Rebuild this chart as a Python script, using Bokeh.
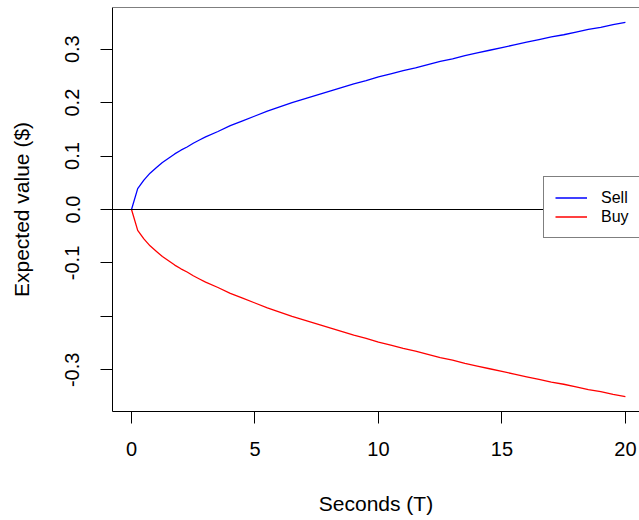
from bokeh.plotting import figure
from bokeh.models import Span, FixedTicker, Legend, LegendItem
from bokeh.embed import file_html
from bokeh.resources import INLINE

# Data
seconds = [0, 0.25, 0.5, 0.75, 1, 1.25, 1.5, 1.75, 2, 2.25, 2.5, 2.75, 3,
           3.5, 4, 4.5, 5, 5.5, 6, 6.5, 7, 7.5, 8, 8.5, 9, 9.5, 10,
           10.5, 11, 11.5, 12, 12.5, 13, 13.5, 14, 14.5, 15, 15.5, 16,
           16.5, 17, 17.5, 18, 18.5, 19, 19.5, 20]
sell = [0.000, 0.039, 0.055, 0.068, 0.078, 0.088, 0.096, 0.104, 0.111, 0.117,
        0.124, 0.130, 0.136, 0.146, 0.157, 0.166, 0.175, 0.184, 0.192, 0.200,
        0.207, 0.214, 0.221, 0.228, 0.235, 0.241, 0.248, 0.254, 0.260, 0.265,
        0.271, 0.277, 0.282, 0.288, 0.293, 0.298, 0.303, 0.308, 0.313, 0.318,
        0.323, 0.327, 0.332, 0.337, 0.341, 0.346, 0.350]
buy = [0.000, -0.039, -0.055, -0.068, -0.078, -0.088, -0.096, -0.104, -0.111, -0.117,
       -0.124, -0.130, -0.136, -0.146, -0.157, -0.166, -0.175, -0.184, -0.192, -0.200,
       -0.207, -0.214, -0.221, -0.228, -0.235, -0.241, -0.248, -0.254, -0.260, -0.265,
       -0.271, -0.277, -0.282, -0.288, -0.293, -0.298, -0.303, -0.308, -0.313, -0.318,
       -0.323, -0.327, -0.332, -0.337, -0.341, -0.346, -0.350]
series_names = ["Sell", "Buy"]
x_ticks = [0, 5, 10, 15, 20]
y_ticks = [-0.3, -0.2, -0.1, 0.0, 0.1, 0.2, 0.3]
y_tick_labels = ["-0.3", "", "-0.1", "0.0", "0.1", "0.2", "0.3"]

FONT = "Liberation Sans"
Y_END = 0.378

p = figure(width=639, height=520, output_backend="svg", toolbar_location=None,
           x_range=(-0.77, 20.57), y_range=(-Y_END, Y_END),
           min_border_left=112, min_border_right=0, min_border_top=7,
           min_border_bottom=109)
p.outline_line_color = None
p.xgrid.visible = False
p.ygrid.visible = False
p.background_fill_color = "white"
p.border_fill_color = "white"

# top border of the box (right edge falls outside the picture)
p.add_layout(Span(location=Y_END, dimension="width", line_color="black", line_width=1))
# zero line
p.add_layout(Span(location=0, dimension="width", line_color="black", line_width=1))

r_sell = p.line(seconds, sell, line_color="#0000FF", line_width=1.3)
r_buy = p.line(seconds, buy, line_color="#FF0000", line_width=1.3)

for ax in (p.xaxis[0], p.yaxis[0]):
    ax.axis_line_color = "black"
    ax.axis_line_width = 1
    ax.major_tick_line_color = "black"
    ax.major_tick_out = 12
    ax.major_tick_in = 0
    ax.minor_tick_line_color = None
    ax.major_label_text_font = FONT
    ax.major_label_text_font_size = "20px"
    ax.major_label_text_color = "black"
    ax.axis_label_text_font = FONT
    ax.axis_label_text_font_size = "21px"
    ax.axis_label_text_font_style = "normal"
    ax.axis_label_text_color = "black"

p.xaxis[0].ticker = FixedTicker(ticks=x_ticks)
p.xaxis[0].axis_label = "Seconds (T)"
p.xaxis[0].major_label_standoff = 18
p.xaxis[0].axis_label_standoff = 33

p.yaxis[0].ticker = FixedTicker(ticks=y_ticks)
p.yaxis[0].major_label_overrides = dict(zip(y_ticks, y_tick_labels))
p.yaxis[0].major_label_orientation = "vertical"
p.yaxis[0].axis_label = "Expected value ($)"
p.yaxis[0].major_label_standoff = 21
p.yaxis[0].axis_label_standoff = 30

legend = Legend(items=[LegendItem(label=series_names[0], renderers=[r_sell]),
                       LegendItem(label=series_names[1], renderers=[r_buy])],
                location=(431, 173), margin=0, padding=11, spacing=0,
                glyph_width=32, glyph_height=19, label_height=19, label_standoff=14,
                label_text_font=FONT, label_text_font_size="16px",
                label_text_color="black",
                border_line_color="black", border_line_width=1,
                background_fill_color="white", background_fill_alpha=1.0)
p.add_layout(legend)

open("out.html", "w").write(file_html(p, INLINE))
